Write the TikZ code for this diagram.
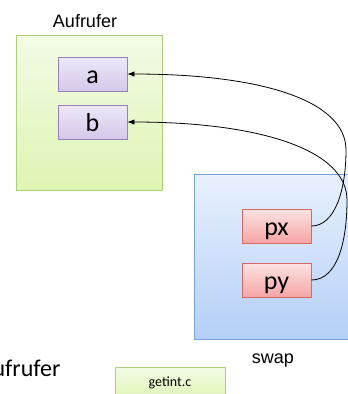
\documentclass[tikz,border=0pt]{standalone}
\usepackage{fontspec}
\setmainfont{Carlito}
\newfontfamily\arialfont{Liberation Sans}
\usetikzlibrary{arrows.meta}

\definecolor{greenTop}{RGB}{243,251,230}
\definecolor{greenBot}{RGB}{221,245,178}
\definecolor{greenLine}{RGB}{172,208,122}
\definecolor{lilacTop}{RGB}{238,232,248}
\definecolor{lilacBot}{RGB}{212,200,234}
\definecolor{lilacLine}{RGB}{150,128,192}
\definecolor{blueTop}{RGB}{232,241,253}
\definecolor{blueBot}{RGB}{180,207,247}
\definecolor{blueLine}{RGB}{122,162,212}
\definecolor{pinkTop}{RGB}{253,226,226}
\definecolor{pinkBot}{RGB}{245,165,165}
\definecolor{pinkLine}{RGB}{214,104,104}

\tikzset{
  frame/.style={rectangle, inner sep=0pt, line width=0.8pt},
  callerbox/.style={frame, draw=greenLine, top color=greenTop, bottom color=greenBot},
  swapbox/.style={frame, draw=blueLine, top color=blueTop, bottom color=blueBot},
  varbox/.style={frame, minimum width=69pt, minimum height=34pt,
    font=\fontsize{26}{26}\selectfont, text height=20pt, text depth=2pt},
  callervar/.style={varbox, draw=lilacLine, top color=lilacTop, bottom color=lilacBot},
  swapvar/.style={varbox, draw=pinkLine, top color=pinkTop, bottom color=pinkBot},
  filebox/.style={frame, draw=greenLine, top color=greenTop, bottom color=greenBot,
    font=\fontsize{14}{14}\selectfont, text height=1.5ex, text depth=.25ex},
  caption/.style={font=\arialfont\fontsize{18}{18}\selectfont},
  pointer/.style={line width=0.8pt, -{Latex[length=7pt,width=5.5pt]}},
}

\begin{document}
\begin{tikzpicture}[x=1pt, y=-1pt]
  \useasboundingbox (0,0) rectangle (348,394);

  % caller frame with its two variables
  \node[callerbox, minimum width=146pt, minimum height=155pt] (caller) at (89,112.5) {};
  \node[caption, anchor=base] (callerlabel) at (85,27) {Aufrufer};
  \node[callervar] (a) at (92.5,74) {a};
  \node[callervar] (b) at (92.5,122) {b};

  % swap frame with the two pointer parameters
  \node[swapbox, minimum width=160pt, minimum height=165pt] (swap) at (274,256.5) {};
  \node[caption, anchor=base] (swaplabel) at (273,363) {swap};
  \node[swapvar] (px) at (276.5,226) {px};
  \node[swapvar] (py) at (276.5,280) {py};

  % pointers back into the caller
  \coordinate (turnA) at (346,150);
  \coordinate (turnB) at (347,200);
  \draw[pointer] (px.east) .. controls (335,226) and (346,190) .. (turnA)
                 .. controls (346,100) and (260,74) .. (a.east);
  \draw[pointer] (py.east) .. controls (338,280) and (347,240) .. (turnB)
                 .. controls (347,150) and (260,122) .. (b.east);

  % footer
  \node[anchor=base east, font=\fontsize{24}{24}\selectfont] (title) at (64,376) {Aufrufer};
  \node[filebox, minimum width=110pt, minimum height=33pt] (file) at (170,383.5) {getint.c};
\end{tikzpicture}
\end{document}
